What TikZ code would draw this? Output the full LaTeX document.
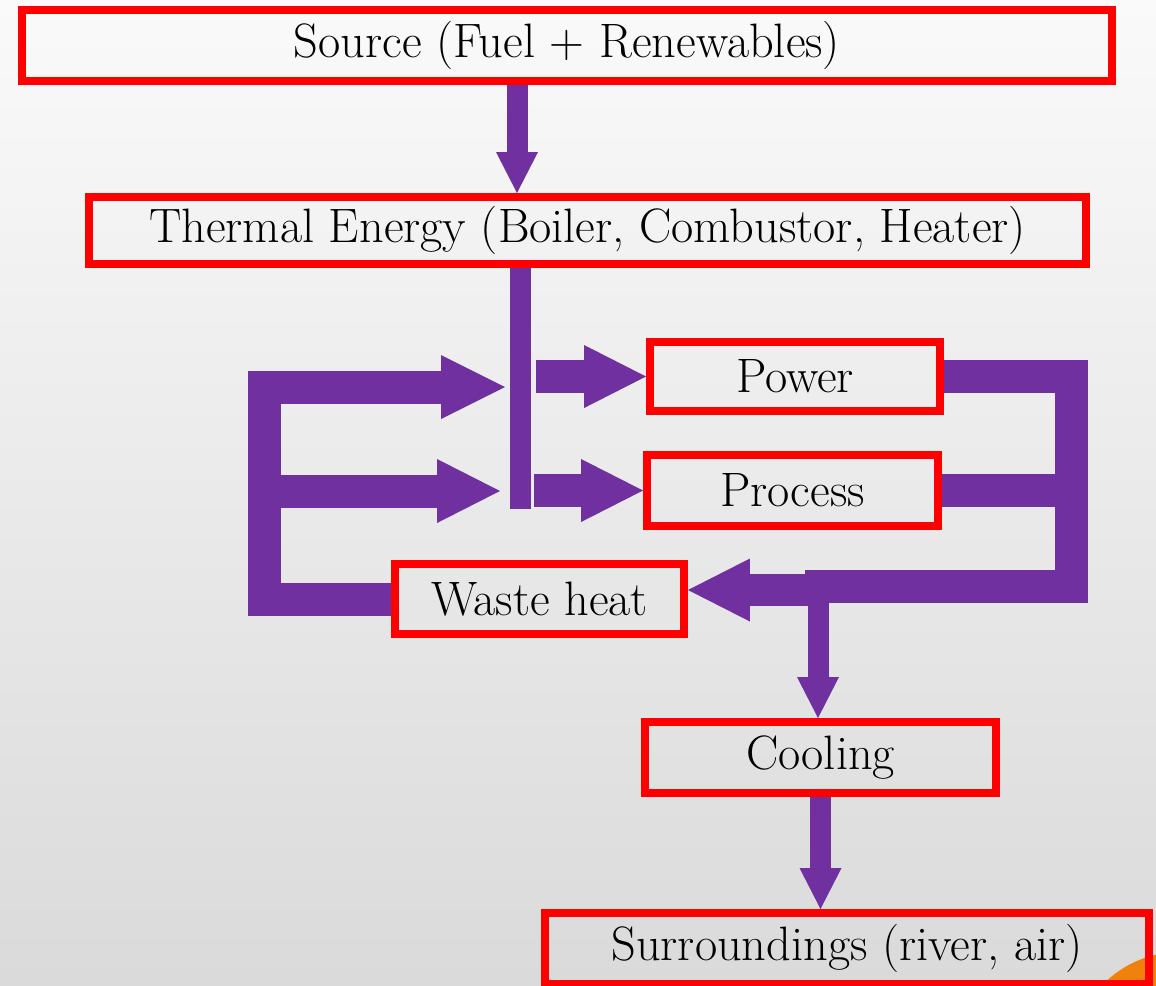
\documentclass[tikz,border=0pt]{standalone}
\usetikzlibrary{arrows.meta}
\definecolor{arrowpurple}{RGB}{112,48,160}
\definecolor{bgtop}{RGB}{250,250,250}
\definecolor{bgbottom}{RGB}{218,218,218}
\definecolor{cornerorange}{RGB}{240,130,12}
\tikzset{
  box/.style={draw=red, line width=0.16cm, inner sep=0pt, outer sep=0.08cm,
              font=\fontsize{27.5}{32}\selectfont},
  thinarrow/.style={draw=arrowpurple, line width=0.42cm,
              -{Triangle[length=0.82cm,width=0.84cm,line width=0pt]}},
  bigarrow/.style={draw=arrowpurple, line width=0.65cm,
              -{Triangle[length=1.24cm,width=1.26cm,line width=0pt]}},
  pipe/.style={draw=arrowpurple, line width=0.66cm, line join=miter},
  bar/.style={draw=arrowpurple, line width=0.42cm},
}
\begin{document}
\begin{tikzpicture}[x=0.02cm, y=-0.02cm]
\useasboundingbox (0,0) rectangle (1156,985);
\shade[top color=bgtop, bottom color=bgbottom] (0,0) rectangle (1156,985);
\begin{scope}
  \clip (0,0) rectangle (1156,985);
  \fill[cornerorange] (1180,1060) circle (2.16cm);
\end{scope}

% boxes
\node[box, minimum width=21.8cm,  minimum height=1.42cm] (src)   at (567,45.5)  {Source (Fuel + Renewables)};
\node[box, minimum width=19.94cm, minimum height=1.34cm] (th)    at (587.5,230.5) {Thermal Energy (Boiler, Combustor, Heater)};
\node[box, minimum width=5.8cm,   minimum height=1.38cm] (pow)   at (795,376.5) {Power};
\node[box, minimum width=5.82cm,  minimum height=1.42cm] (proc)  at (792.5,490.5) {Process};
\node[box, minimum width=5.78cm,  minimum height=1.4cm]  (waste) at (539.5,599) {Waste heat};
\node[box, minimum width=7.02cm,  minimum height=1.42cm] (cool)  at (820.5,757.5) {Cooling};
\node[box, minimum width=12.08cm, minimum height=1.42cm] (sur)   at (847,948.5) {Surroundings (river, air)};

% junction coordinates
\coordinate (tbarbot) at (520,509);
\coordinate (tipA) at (505,387);
\coordinate (tipB) at (500,491);
\coordinate (lcorner) at (264,387);
\coordinate (lmid) at (264,491);
\coordinate (rstartA) at (536,0 |- pow.west);
\coordinate (rstartB) at (534,0 |- proc.west);
\coordinate (rbar) at (1071,586);
\coordinate (rjoin) at (805,586);
\coordinate (wstart) at (818,590);
\coordinate (dstart) at (818,600);

% source -> thermal
\draw[thinarrow] (517,0 |- src.south) -- (517,0 |- th.north);
% thermal distribution bar
\draw[bar] (520,0 |- th.south) -- (tbarbot);
% bar -> power / process
\draw[bigarrow] (rstartA) -- (pow.west);
\draw[bigarrow] (rstartB) -- (proc.west);
% right collector
\draw[pipe] (pow.east) -- (rbar |- pow.east) -- (rbar) -- (rjoin);
\draw[pipe] (proc.east) -- (rbar |- proc.east);
% collector -> waste heat, cooling
\draw[bigarrow] (wstart) -- (waste.east |- wstart);
\draw[thinarrow] (dstart) -- (dstart |- cool.north);
% left recirculation
\draw[pipe, -{Triangle[length=1.28cm,width=1.28cm,line width=0pt]}] (waste.west) -| (lcorner) -- (tipA);
\draw[pipe, -{Triangle[length=1.26cm,width=1.28cm,line width=0pt]}] (lmid) -- (tipB);
% cooling -> surroundings
\draw[thinarrow] (cool.south) -- (cool.south |- sur.north);
\end{tikzpicture}
\end{document}
